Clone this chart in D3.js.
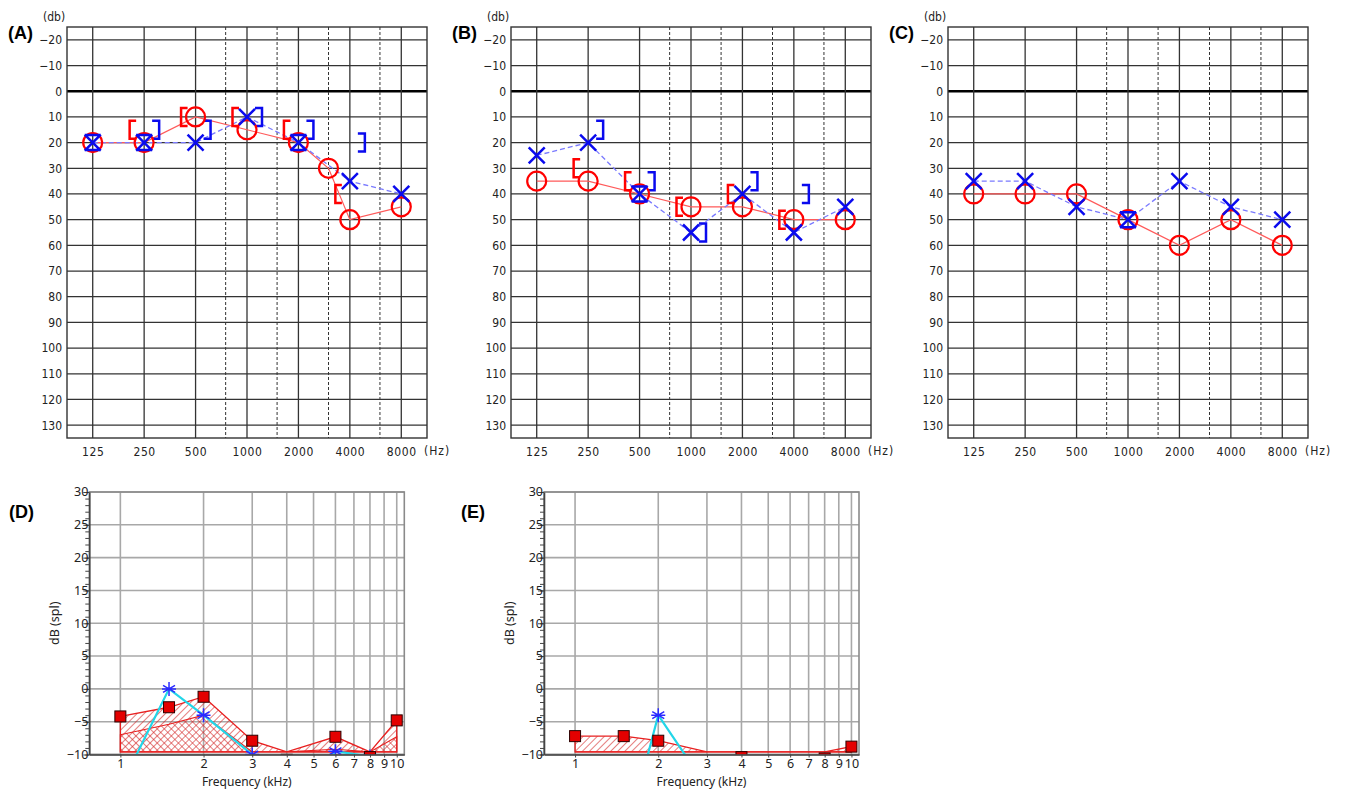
<!DOCTYPE html>
<html>
<head>
<meta charset="utf-8">
<script src="https://cdn.jsdelivr.net/npm/d3@7"></script>
<style>
body { margin: 0; background: #fff; }
svg { display: block; }
</style>
</head>
<body>
<svg id="chart"></svg>
<script>
// audiogram axes
const hzTicks = [125, 250, 500, 1000, 2000, 4000, 8000];
const hzHalf = [750, 1500, 3000, 6000];
const dbTicks = [-20, -10, 0, 10, 20, 30, 40, 50, 60, 70, 80, 90, 100, 110, 120, 130];

// (A)
const aRightF = [125, 250, 500, 1000, 2000, 3000, 4000, 8000];
const aRightDb = [20, 20, 10, 15, 20, 30, 50, 45];
const aLeftF = [125, 250, 500, 1000, 2000, 4000, 8000];
const aLeftDb = [20, 20, 20, 10, 20, 35, 40];
const aBoneRF = [250, 500, 1000, 2000, 4000];
const aBoneRDb = [15, 10, 10, 15, 40];
const aBoneLF = [250, 500, 1000, 2000, 4000];
const aBoneLDb = [15, 15, 10, 15, 20];

// (B)
const bRightF = [125, 250, 500, 1000, 2000, 4000, 8000];
const bRightDb = [35, 35, 40, 45, 45, 50, 50];
const bLeftF = [125, 250, 500, 1000, 2000, 4000, 8000];
const bLeftDb = [25, 20, 40, 55, 40, 55, 45];
const bBoneRF = [250, 500, 1000, 2000, 4000];
const bBoneRDb = [30, 35, 45, 40, 50];
const bBoneLF = [250, 500, 1000, 2000, 4000];
const bBoneLDb = [15, 35, 55, 35, 40];

// (C)
const cRightF = [125, 250, 500, 1000, 2000, 4000, 8000];
const cRightDb = [40, 40, 40, 50, 60, 50, 60];
const cLeftF = [125, 250, 500, 1000, 2000, 4000, 8000];
const cLeftDb = [35, 35, 45, 50, 35, 45, 50];

// (D) and (E) dB spl panels
const splFreq = [1, 1.5, 2, 3, 4, 6, 8, 10];
const splTicksX = [1, 2, 3, 4, 5, 6, 7, 8, 9, 10];
const splTicksY = [-10, -5, 0, 5, 10, 15, 20, 25, 30];
const dSignal = [-4.2, -2.8, -1.2, -7.9, -10.8, -7.3, -10.4, -4.8];
const dNoise = [-7, -5.4, -4, -10.5, -11, -9.2, -11, -7.3];
const dProbe = [-15, 0, -4, -10, -20, -9.5, -10.3, -15];
const eSignal = [-7.2, -7.2, -7.9, -11, -10.4, -11, -10.6, -8.8];
const eNoise = [-12, -12, -12, -12, -12, -12, -12, -12];
const eProbe = [-25, -24, -4, -15, -20, -20, -20, -20];
const floorDb = -9.6;

var svg = d3.select('#chart')
    .attr('width', 1346)
    .attr('height', 789);

var defs = svg.append('defs');

function hatch(id, angle) {
    defs.append('pattern')
        .attr('id', id)
        .attr('patternUnits', 'userSpaceOnUse')
        .attr('width', 5)
        .attr('height', 5)
        .attr('patternTransform', 'rotate(' + angle + ')')
        .append('line')
        .attr('x1', 0).attr('y1', 0).attr('x2', 0).attr('y2', 5)
        .attr('stroke', '#d42626')
        .attr('stroke-width', 1.2);
}
hatch('hatchA', 45);
hatch('hatchB', -45);

var audioFont = '"DejaVu Sans Condensed", "DejaVu Sans", sans-serif';

function zip(fs, vs) {
    return fs.map(function(f, i) { return { f: f, v: vs[i] } });
}

function audiogram(x0, label, rightF, rightDb, leftF, leftDb, boneRF, boneRDb, boneLF, boneLDb) {
    var y0 = 27, w = 360, h = 411;
    var g = svg.append('g').attr('transform', 'translate(' + x0 + ',' + y0 + ')');

    var x = d3.scaleLog().base(2)
        .domain([125 / Math.SQRT2, 8000 * Math.SQRT2])
        .range([0, w]);
    var y = d3.scaleLinear().domain([-25, 135]).range([0, h]);

    // grid
    g.selectAll('.hl').data(dbTicks).enter().append('line')
        .attr('x1', 0).attr('x2', w)
        .attr('y1', function(d) { return y(d) })
        .attr('y2', function(d) { return y(d) })
        .attr('stroke', function(d) { return d === 0 ? '#000' : '#333' })
        .attr('stroke-width', function(d) { return d === 0 ? 2.6 : 1.3 });

    g.selectAll('.vl').data(hzTicks).enter().append('line')
        .attr('x1', function(d) { return x(d) })
        .attr('x2', function(d) { return x(d) })
        .attr('y1', 0).attr('y2', h)
        .attr('stroke', '#333').attr('stroke-width', 1.3);

    g.selectAll('.vd').data(hzHalf).enter().append('line')
        .attr('x1', function(d) { return x(d) })
        .attr('x2', function(d) { return x(d) })
        .attr('y1', 0).attr('y2', h)
        .attr('stroke', '#333').attr('stroke-width', 1)
        .attr('stroke-dasharray', '3,2');

    g.append('rect')
        .attr('width', w).attr('height', h)
        .attr('fill', 'none').attr('stroke', '#333').attr('stroke-width', 1.4);

    // axis labels
    var ay = g.append('g')
        .call(d3.axisLeft(y).tickValues(dbTicks).tickSize(0).tickPadding(5));
    ay.select('.domain').remove();
    ay.selectAll('text').style('font-family', audioFont).style('font-size', '12px').attr('fill', '#222');

    var ax = g.append('g')
        .attr('transform', 'translate(0,' + h + ')')
        .call(d3.axisBottom(x).tickValues(hzTicks).tickFormat(d3.format('d')).tickSize(0).tickPadding(9));
    ax.select('.domain').remove();
    ax.selectAll('text').style('font-family', audioFont).style('font-size', '12px').attr('fill', '#222')
        .attr('letter-spacing', 0.6);

    g.append('text')
        .attr('x', w - 3).attr('y', h + 17)
        .style('font-family', audioFont).style('font-size', '12px').attr('fill', '#222')
        .attr('letter-spacing', 1)
        .text('(Hz)');

    g.append('text')
        .attr('x', -24).attr('y', -6)
        .style('font-family', audioFont).style('font-size', '12px').attr('fill', '#222')
        .text('(db)');

    svg.append('text')
        .attr('x', x0 - 59).attr('y', 39)
        .style('font-family', '"Liberation Sans", Arial, sans-serif')
        .style('font-size', '18px').style('font-weight', 'bold')
        .text(label);

    var line = d3.line()
        .x(function(d) { return x(d.f) })
        .y(function(d) { return y(d.v) });

    var right = zip(rightF, rightDb);
    var left = zip(leftF, leftDb);

    g.append('path').datum(right)
        .attr('fill', 'none').attr('stroke', '#ff5a5a').attr('stroke-width', 1.2)
        .attr('d', line);

    g.append('path').datum(left)
        .attr('fill', 'none').attr('stroke', '#7a7aff').attr('stroke-width', 1.3)
        .attr('stroke-dasharray', '5,3')
        .attr('d', line);

    // bone conduction brackets
    g.selectAll('.br').data(zip(boneRF, boneRDb)).enter().append('path')
        .attr('transform', function(d) { return 'translate(' + x(d.f) + ',' + y(d.v) + ')' })
        .attr('d', 'M-8,-9 H-14.5 V9 H-8')
        .attr('fill', 'none').attr('stroke', '#f00').attr('stroke-width', 2.5);

    g.selectAll('.bl').data(zip(boneLF, boneLDb)).enter().append('path')
        .attr('transform', function(d) { return 'translate(' + x(d.f) + ',' + y(d.v) + ')' })
        .attr('d', 'M8,-9 H15 V9 H8')
        .attr('fill', 'none').attr('stroke', '#0a0aee').attr('stroke-width', 2.5);

    // right ear O
    g.selectAll('.o').data(right).enter().append('circle')
        .attr('cx', function(d) { return x(d.f) })
        .attr('cy', function(d) { return y(d.v) })
        .attr('r', 9.5)
        .attr('fill', 'none').attr('stroke', '#f00').attr('stroke-width', 2.2);

    // left ear X (with bars where it sits on the O)
    g.selectAll('.x').data(left).enter().append('path')
        .attr('transform', function(d) { return 'translate(' + x(d.f) + ',' + y(d.v) + ')' })
        .attr('d', function(d) {
            var same = right.some(function(r) { return r.f === d.f && r.v === d.v });
            return 'M-8,-8 L8,8 M8,-8 L-8,8' + (same ? ' M-8,-7.5 H8 M-8,7.5 H8' : '');
        })
        .attr('fill', 'none').attr('stroke', '#0a0aee').attr('stroke-width', 2.5);
}

audiogram(67, '(A)', aRightF, aRightDb, aLeftF, aLeftDb, aBoneRF, aBoneRDb, aBoneLF, aBoneLDb);
audiogram(511, '(B)', bRightF, bRightDb, bLeftF, bLeftDb, bBoneRF, bBoneRDb, bBoneLF, bBoneLDb);
audiogram(948, '(C)', cRightF, cRightDb, cLeftF, cLeftDb, [], [], [], []);

var splFont = '"Noto Sans", "DejaVu Sans", sans-serif';

function splPanel(id, x0, label, signal, noise, probe) {
    var y0 = 492, w = 315, h = 262.5;
    var g = svg.append('g').attr('transform', 'translate(' + x0 + ',' + y0 + ')');

    var x = d3.scaleLog().domain([0.772, 10.65]).range([0, w]);
    var y = d3.scaleLinear().domain([-10, 30]).range([h, 0]);

    defs.append('clipPath').attr('id', id)
        .append('rect').attr('width', w).attr('height', h);

    g.selectAll('.hl').data(splTicksY).enter().append('line')
        .attr('x1', 0).attr('x2', w)
        .attr('y1', function(d) { return y(d) })
        .attr('y2', function(d) { return y(d) })
        .attr('stroke', '#a8a8a8').attr('stroke-width', 1.6);

    g.selectAll('.vl').data(splTicksX).enter().append('line')
        .attr('x1', function(d) { return x(d) })
        .attr('x2', function(d) { return x(d) })
        .attr('y1', 0).attr('y2', h)
        .attr('stroke', '#a8a8a8').attr('stroke-width', 1.6);

    g.append('rect')
        .attr('width', w).attr('height', h)
        .attr('fill', 'none').attr('stroke', '#8a8a8a').attr('stroke-width', 1.6);

    var plot = g.append('g').attr('clip-path', 'url(#' + id + ')');

    var sig = zip(splFreq, signal);
    var noi = zip(splFreq, noise);
    var pro = zip(splFreq, probe);

    var area = d3.area()
        .x(function(d) { return x(d.f) })
        .y0(y(floorDb))
        .y1(function(d) { return y(Math.max(d.v, floorDb)) });

    plot.append('path').datum(sig)
        .attr('fill', 'url(#hatchA)')
        .attr('stroke', '#e82020').attr('stroke-width', 1.3)
        .attr('d', area);

    plot.append('path').datum(noi)
        .attr('fill', 'url(#hatchB)')
        .attr('stroke', '#e82020').attr('stroke-width', 1.1)
        .attr('d', area);

    var line = d3.line()
        .x(function(d) { return x(d.f) })
        .y(function(d) { return y(d.v) });

    plot.append('path').datum(pro)
        .attr('fill', 'none').attr('stroke', '#22d6e8').attr('stroke-width', 2.2)
        .attr('d', line);

    plot.selectAll('.ast').data(pro).enter().append('path')
        .attr('transform', function(d) { return 'translate(' + x(d.f) + ',' + y(d.v) + ')' })
        .attr('d', 'M0,-7 V7 M-6,-3.5 L6,3.5 M-6,3.5 L6,-3.5 M-7,0 H7')
        .attr('fill', 'none').attr('stroke', '#2a2aff').attr('stroke-width', 1.5);

    plot.selectAll('.sq').data(sig).enter().append('rect')
        .attr('x', function(d) { return x(d.f) - 5.5 })
        .attr('y', function(d) { return y(d.v) - 5.5 })
        .attr('width', 11).attr('height', 11)
        .attr('fill', '#e40000').attr('stroke', '#2a0000').attr('stroke-width', 1);

    // axes
    var minor = g.append('g')
        .call(d3.axisLeft(y).ticks(40).tickSize(4).tickFormat(''));
    minor.select('.domain').remove();
    minor.selectAll('line').attr('stroke', '#444');

    var ay = g.append('g')
        .call(d3.axisLeft(y).tickValues(splTicksY).tickSize(6).tickPadding(-4).tickSizeOuter(0));
    ay.select('.domain').attr('stroke', '#444').attr('stroke-width', 1.6);
    ay.selectAll('line').attr('stroke', '#444');
    ay.selectAll('text').style('font-family', splFont).style('font-size', '12.5px').attr('fill', '#222')
        .attr('x', -1).attr('dy', '0.3em');

    var ax = g.append('g')
        .attr('transform', 'translate(0,' + h + ')')
        .call(d3.axisBottom(x).tickValues(splTicksX).tickFormat(d3.format('d')).tickSize(3).tickPadding(2).tickSizeOuter(0));
    ax.select('.domain').attr('stroke', '#444').attr('stroke-width', 1.6);
    ax.selectAll('line').attr('stroke', '#444');
    ax.selectAll('text').style('font-family', splFont).style('font-size', '12.5px').attr('fill', '#222');

    g.append('text')
        .attr('x', w / 2).attr('y', h + 31)
        .attr('text-anchor', 'middle')
        .style('font-family', splFont).style('font-size', '12px').attr('fill', '#222')
        .text('Frequency (kHz)');

    g.append('text')
        .attr('transform', 'translate(-30,' + (h / 2) + ') rotate(-90)')
        .attr('text-anchor', 'middle')
        .style('font-family', splFont).style('font-size', '12.5px').attr('fill', '#222')
        .text('dB (spl)');

    svg.append('text')
        .attr('x', label === '(D)' ? 9 : 461).attr('y', 518)
        .style('font-family', '"Liberation Sans", Arial, sans-serif')
        .style('font-size', '18px').style('font-weight', 'bold')
        .text(label);
}

splPanel('clipD', 89.3, '(D)', dSignal, dNoise, dProbe);
splPanel('clipE', 544, '(E)', eSignal, eNoise, eProbe);
</script>
</body>
</html>
